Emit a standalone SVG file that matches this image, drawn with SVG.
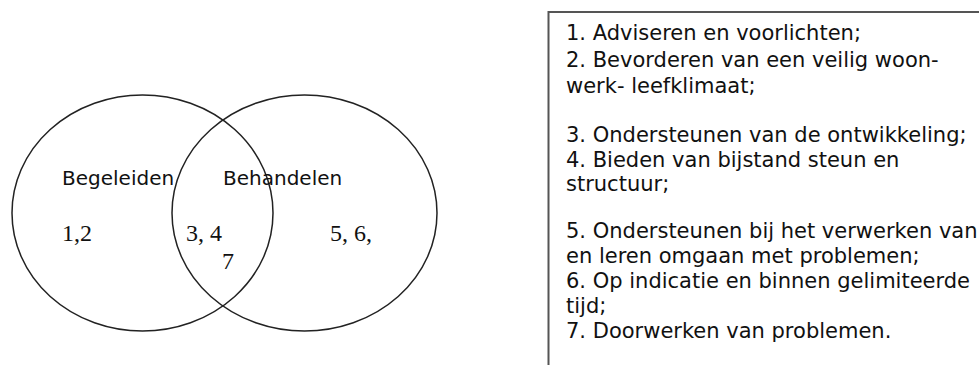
<svg xmlns="http://www.w3.org/2000/svg" width="979" height="365" viewBox="0 0 979 365">
  <style>
    .ring { fill: none; stroke: #222; stroke-width: 1.5; }
    .label { font-family: "DejaVu Sans", Verdana, sans-serif; font-size: 20px; fill: #111; }
    .num { font-family: "Liberation Serif", "Times New Roman", serif; font-size: 24px; fill: #111; }
    .legend { font-family: "DejaVu Sans", Verdana, sans-serif; font-size: 21px; fill: #111; }
    .frame { fill: #fff; stroke: #555; stroke-width: 2; }
  </style>
  <rect width="979" height="365" fill="#fff"/>

  <!-- Venn diagram: two overlapping sets -->
  <g id="begeleiden">
    <ellipse class="ring" cx="142.5" cy="213" rx="130.5" ry="118"/>
    <text class="label" x="62" y="185">Begeleiden</text>
    <text class="num" x="62" y="241">1,2</text>
  </g>
  <g id="behandelen">
    <ellipse class="ring" cx="304.5" cy="213" rx="132.5" ry="118"/>
    <text class="label" x="223" y="185">Behandelen</text>
    <text class="num" x="330" y="241">5, 6,</text>
  </g>
  <g id="overlap">
    <text class="num" x="186" y="241">3, 4</text>
    <text class="num" x="222" y="269">7</text>
  </g>

  <!-- Legend box with the numbered tasks -->
  <g id="legend">
    <rect class="frame" x="548.5" y="12" width="440" height="370"/>
    <text class="legend" x="566" y="40">1. Adviseren en voorlichten;</text>
    <text class="legend" x="566" y="67">2. Bevorderen van een veilig woon-</text>
    <text class="legend" x="566" y="93">werk- leefklimaat;</text>
    <text class="legend" x="566" y="142">3. Ondersteunen van de ontwikkeling;</text>
    <text class="legend" x="566" y="167">4. Bieden van bijstand steun en</text>
    <text class="legend" x="566" y="191">structuur;</text>
    <text class="legend" x="566" y="238">5. Ondersteunen bij het verwerken van</text>
    <text class="legend" x="566" y="263">en leren omgaan met problemen;</text>
    <text class="legend" x="566" y="288">6. Op indicatie en binnen gelimiteerde</text>
    <text class="legend" x="566" y="313">tijd;</text>
    <text class="legend" x="566" y="338">7. Doorwerken van problemen.</text>
  </g>
</svg>
